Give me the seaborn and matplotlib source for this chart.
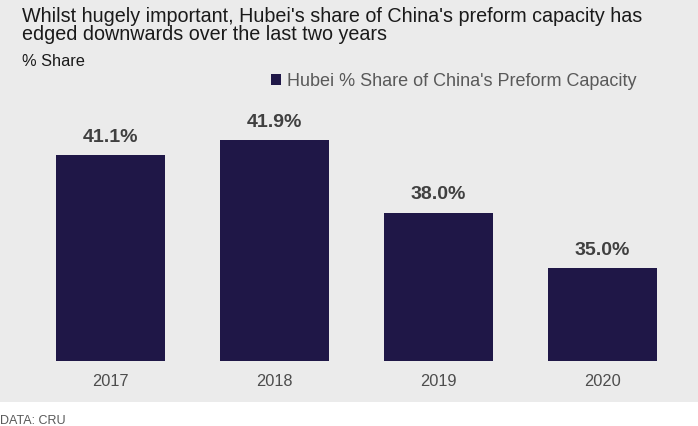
import seaborn as sns
import pandas as pd
import matplotlib.pyplot as plt

# Data
years = ["2017", "2018", "2019", "2020"]
share = [41.1, 41.9, 38.0, 35.0]
series_name = "Hubei % Share of China's Preform Capacity"

df = pd.DataFrame({"Year": years, "Share": share})

sns.set_theme(style="white")
plt.rcParams['font.family'] = ['Liberation Sans', 'DejaVu Sans']

W, H = 698, 427
fig = plt.figure(figsize=(W / 100, H / 100), dpi=100)
fig.patch.set_facecolor("#ebebeb")

# white strip at the bottom for the source note
strip = plt.Rectangle((0, 0), 1, (H - 403) / H, transform=fig.transFigure,
                      facecolor="white", edgecolor="none", zorder=-1)
fig.add_artist(strip)

# axes in pixel coordinates: bars from x=56 to 657, baseline y=362, ylim 30..45
ax_left, ax_right = 28.5, 684
ax_bottom = 362
ax_top = ax_bottom - 15 * 18.55
ax = fig.add_axes([ax_left / W, (H - ax_bottom) / H,
                   (ax_right - ax_left) / W, (ax_bottom - ax_top) / H])
ax.set_facecolor("none")

bar_color = "#1f1747"
sns.barplot(data=df, x="Year", y="Share", color=bar_color, width=0.665,
            saturation=1, linewidth=0, ax=ax, label=series_name)
ax.set_ylim(30, 45)
ax.set_xlim(-0.5, 3.5)

for p, v in zip(ax.patches, share):
    ax.text(p.get_x() + p.get_width() / 2, v + 0.55, f"{v:.1f}%",
            ha="center", va="bottom", fontsize=14, fontweight="bold", color="#404040")

for s in ax.spines.values():
    s.set_visible(False)
ax.set_yticks([])
ax.set_xlabel("")
ax.set_ylabel("")
ax.tick_params(axis="x", length=0, pad=9, labelsize=11.8, labelcolor="#4d4d4d")

ax.legend(loc="center left", bbox_to_anchor=(271 / W, (H - 82) / H),
          bbox_transform=fig.transFigure, frameon=False, fontsize=13,
          handlelength=0.55, handleheight=0.55, handletextpad=0.35,
          borderpad=0, borderaxespad=0, labelcolor="#595959")

fig.text(22 / W, (H - 7) / H,
         "Whilst hugely important, Hubei's share of China's preform capacity has\n"
         "edged downwards over the last two years",
         ha="left", va="top", fontsize=14.2, color="#1a1a1a", linespacing=0.95)
fig.text(22 / W, (H - 62) / H, "% Share", ha="left", va="center",
         fontsize=11.8, color="#1a1a1a")
fig.text(0, (H - 421) / H, "DATA: CRU", ha="left", va="center",
         fontsize=9, color="#595959")

fig.savefig("out.png", dpi=100, facecolor=fig.get_facecolor())
